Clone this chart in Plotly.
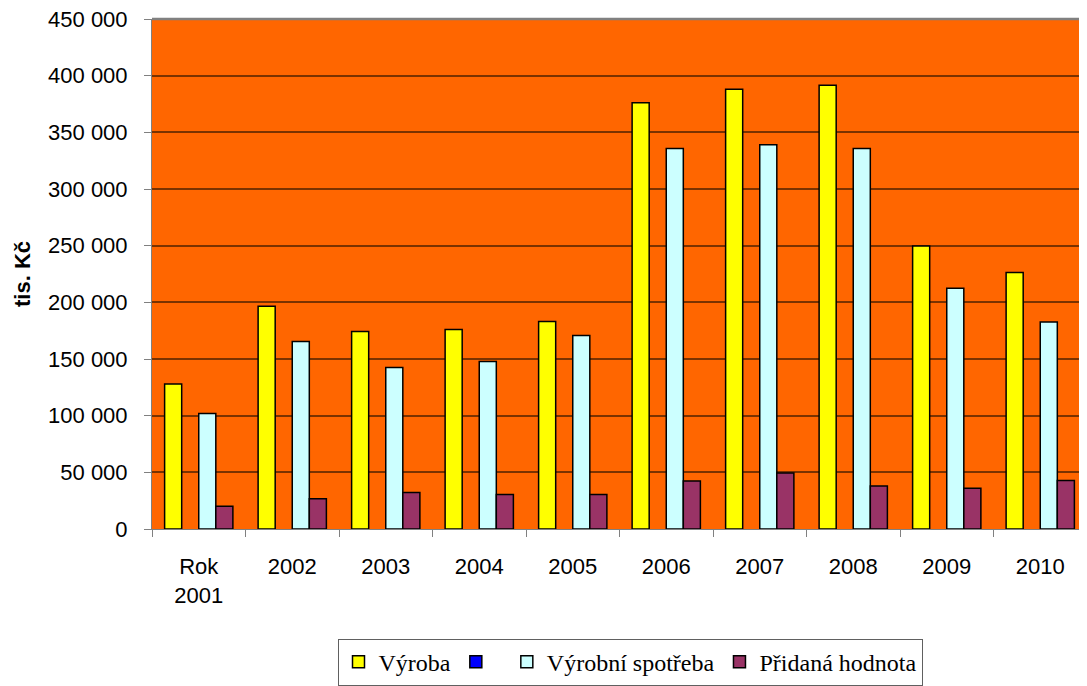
import plotly.graph_objects as go

categories = ["Rok<br>2001", "2002", "2003", "2004", "2005", "2006", "2007", "2008", "2009", "2010"]
vyroba = [128000, 196500, 174200, 176000, 183000, 376000, 388000, 391500, 249600, 226300]
prazdna = [None] * 10
spotreba = [102000, 165400, 142600, 147900, 170700, 335800, 339000, 335700, 212500, 182700]
pridana = [20000, 26800, 32100, 30400, 30400, 42400, 49400, 38000, 36000, 42800]

names = ["Výroba", " ", "Výrobní spotřeba", "Přidaná hodnota"]
colors = ["#FFFF00", "#0000FF", "#CCFFFF", "#993366"]
series = [vyroba, prazdna, spotreba, pridana]

fig = go.Figure()
for n, c, v in zip(names, colors, series):
    fig.add_trace(go.Bar(
        x=categories, y=v, name=n,
        marker=dict(color=c, line=dict(color="#000000", width=1.5)),
    ))

# page has an 8px body margin; compensate so the plot sits where the reference has it
OFF = 8
W, H = 1087 - OFF, 686 - OFF
L, R, T, B = 152 - OFF, 0, 19 - OFF, 155
pw = W - L - R
ph = H - T - B

fig.update_layout(
    width=W, height=H,
    margin=dict(l=L, r=R, t=T, b=B, pad=0),
    paper_bgcolor="white",
    plot_bgcolor="#FF6600",
    barmode="group", bargap=0.27, bargroupgap=0,
    separators=". ",
    font=dict(family="Liberation Sans, Arial", color="black"),
    showlegend=True,
    legend=dict(
        orientation="h", x=(630 - OFF - L) / pw, xanchor="center",
        y=(531 - 641) / ph, yanchor="top",
        font=dict(family="Liberation Serif, Times New Roman", size=24, color="black"),
        bordercolor="#606060", borderwidth=1, bgcolor="white",
        itemwidth=30, traceorder="normal",
    ),
    xaxis=dict(
        showline=True, linecolor="#808080", linewidth=1,
        ticks="outside", tickson="boundaries", ticklen=7, tickcolor="#808080",
        tickfont=dict(size=22), ticklabelstandoff=18,
        showgrid=False,
    ),
    yaxis=dict(
        range=[0, 450000], dtick=50000, tickformat=",d",
        showline=True, linecolor="#808080", linewidth=1,
        ticks="outside", ticklen=7, tickcolor="#808080",
        tickfont=dict(size=22), ticklabelstandoff=12,
        ticklabeloverflow="allow",
        showgrid=True, gridcolor="#7A3200", gridwidth=1.5,
        zeroline=False,
    ),
    annotations=[dict(
        text="<b>tis. Kč</b>", textangle=-90, xref="paper", yref="paper",
        x=(22 - OFF - L) / pw, y=0.5, xanchor="center", yanchor="middle",
        showarrow=False, font=dict(size=22, family="Liberation Sans, Arial"),
    )],
    shapes=[
        dict(type="line", xref="paper", yref="paper", x0=0, x1=1, y0=1, y1=1,
             line=dict(color="#808080", width=2.5)),
    ],
)

fig.write_html("out.html")
